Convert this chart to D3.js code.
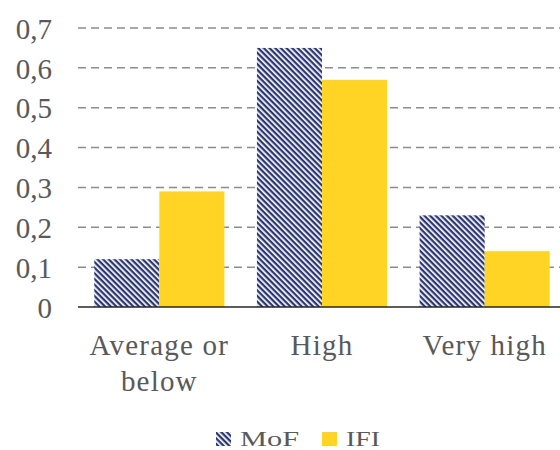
<!DOCTYPE html>
<html>
<head>
<meta charset="utf-8">
<script src="https://cdn.jsdelivr.net/npm/d3@7"></script>
<style>
  html, body { margin: 0; padding: 0; background: #fff; }
  svg { display: block; }
</style>
</head>
<body>
<svg id="chart" width="560" height="450"></svg>
<script>
const categories = [["Average or", "below"], ["High"], ["Very high"]];
const seriesNames = ["MoF", "IFI"];
const mofValues = [0.12, 0.65, 0.23];
const ifiValues = [0.29, 0.57, 0.14];
const yTicks = [0, 0.1, 0.2, 0.3, 0.4, 0.5, 0.6, 0.7];
const yTickLabels = ["0", "0,1", "0,2", "0,3", "0,4", "0,5", "0,6", "0,7"];

(function () {
const navy = "#2b3775";
const yellow = "#ffd424";
const textColor = "#595959";
const FONT = "Liberation Serif";

const svg = d3.select("#chart");
const defs = svg.append("defs");
const pat = defs.append("pattern")
  .attr("id", "hatch")
  .attr("patternUnits", "userSpaceOnUse")
  .attr("width", 4).attr("height", 4)
  .attr("patternTransform", "rotate(45)");
pat.append("rect").attr("width", 4).attr("height", 4).attr("fill", "#fff");
pat.append("rect").attr("x", 0).attr("y", 0).attr("width", 4).attr("height", 2.3).attr("fill", navy);

const mLeft = 78, mRight = 566, mTop = 28, mBottom = 307;

const x0 = d3.scaleBand().domain(d3.range(categories.length))
  .range([mLeft, mRight]).paddingInner(0.2).paddingOuter(0.1);
const x1 = d3.scaleBand().domain(seriesNames).range([0, x0.bandwidth()]).padding(0);
const y = d3.scaleLinear().domain([0, 0.7]).range([mBottom, mTop]);

// gridlines
svg.append("g").selectAll("line").data(yTicks.filter(d => d > 0)).join("line")
  .attr("x1", mLeft).attr("x2", mRight)
  .attr("y1", d => y(d)).attr("y2", d => y(d))
  .attr("stroke", "#8c8c8c").attr("stroke-width", 1.5)
  .attr("stroke-dasharray", "8,5");

// y axis labels
const yAxis = d3.axisLeft(y).tickValues(yTicks)
  .tickFormat((d, i) => yTickLabels[i]).tickSize(0).tickPadding(26);
const gy = svg.append("g").attr("transform", `translate(${mLeft},0)`).call(yAxis);
gy.select(".domain").remove();
gy.selectAll("text").style("font-family", FONT).style("font-size", "29px")
  .attr("fill", textColor).attr("dy", "0.35em");

// bars
const data = categories.map((c, i) => ({ i, vals: [
  { s: "MoF", v: mofValues[i] }, { s: "IFI", v: ifiValues[i] }] }));
const groups = svg.append("g").selectAll("g").data(data).join("g")
  .attr("transform", d => `translate(${x0(d.i)},0)`);
groups.selectAll("rect").data(d => d.vals).join("rect")
  .attr("x", d => x1(d.s))
  .attr("width", x1.bandwidth())
  .attr("y", d => y(d.v))
  .attr("height", d => y(0) - y(d.v))
  .attr("fill", d => d.s === "MoF" ? "url(#hatch)" : yellow);

// x axis line
const xAxis = d3.axisBottom(x0).tickSize(0).tickFormat(() => "");
const gx = svg.append("g").attr("transform", `translate(0,${mBottom})`).call(xAxis);
gx.select(".domain").attr("stroke", "#262626").attr("stroke-width", 1.5)
  .attr("d", `M${mLeft},0H${mRight}`);

// x labels
const xl = svg.append("g").selectAll("text").data(categories).join("text")
  .attr("x", (d, i) => x0(i) + x0.bandwidth() / 2)
  .attr("y", 355)
  .attr("text-anchor", "middle")
  .style("font-family", FONT).style("font-size", "29px")
  .style("letter-spacing", "1.2px").attr("fill", textColor);
xl.selectAll("tspan").data(d => d).join("tspan")
  .attr("x", function() { return d3.select(this.parentNode).attr("x"); })
  .attr("dy", (d, i) => i === 0 ? 0 : 36)
  .text(d => d);

// legend
const legend = svg.append("g");
const legendItems = [
  { name: seriesNames[0], fill: "url(#hatch)", sx: 216, tx: 240, len: 59 },
  { name: seriesNames[1], fill: yellow, sx: 322, tx: 346, len: 34 }
];
legend.selectAll("rect").data(legendItems).join("rect")
  .attr("x", d => d.sx).attr("y", 432).attr("width", 15).attr("height", 14)
  .attr("fill", d => d.fill);
legend.selectAll("text").data(legendItems).join("text")
  .attr("x", d => d.tx).attr("y", 446)
  .attr("textLength", d => d.len).attr("lengthAdjust", "spacingAndGlyphs")
  .style("font-family", FONT).style("font-size", "22px").attr("fill", textColor)
  .text(d => d.name);
})();
</script>
</body>
</html>
